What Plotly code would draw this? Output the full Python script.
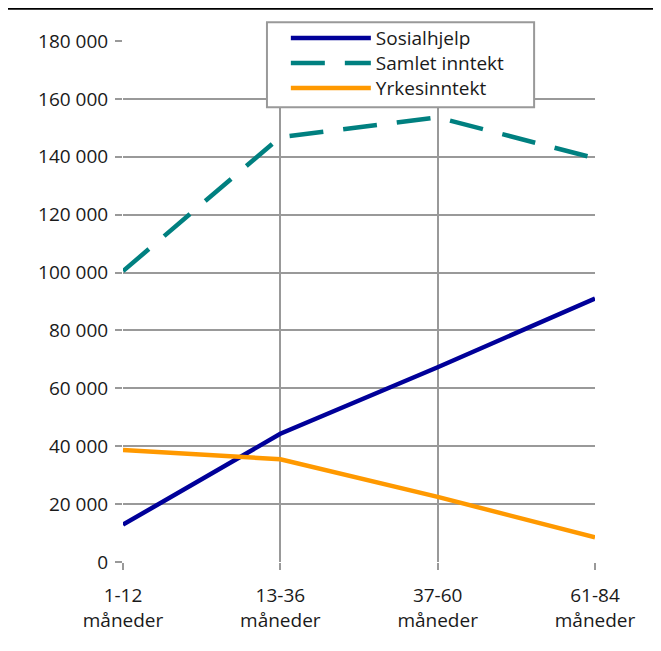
import plotly.graph_objects as go

categories = ["1-12<br>måneder", "13-36<br>måneder", "37-60<br>måneder", "61-84<br>måneder"]
sosialhjelp = [12900, 44300, 67300, 91000]
samlet_inntekt = [100500, 146800, 153600, 139500]
yrkesinntekt = [38700, 35500, 22500, 8500]
y_tick_values = [0, 20000, 40000, 60000, 80000, 100000, 120000, 140000, 160000, 180000]
y_tick_labels = ["0", "20 000", "40 000", "60 000", "80 000", "100 000", "120 000", "140 000", "160 000", "180 000"]

FONT = "Open Sans"
TXT = "#1a1a1a"
fig = go.Figure()
fig.add_trace(go.Scatter(x=categories, y=sosialhjelp, name="Sosialhjelp", mode="lines",
                         line=dict(color="#000099", width=4.5), legend="legend"))
fig.add_trace(go.Scatter(x=categories, y=samlet_inntekt, name="Samlet inntekt", mode="lines",
                         line=dict(color="#008080", width=4.5, dash="34px,20px"), legend="legend2"))
fig.add_trace(go.Scatter(x=categories, y=yrkesinntekt, name="Yrkesinntekt", mode="lines",
                         line=dict(color="#FF9900", width=4.5), legend="legend3"))

def leg(ypos):
    return dict(x=0.345, y=ypos, xanchor="left", yanchor="top",
                bgcolor="rgba(0,0,0,0)", borderwidth=0,
                font=dict(family=FONT, size=19, color=TXT),
                itemwidth=80, tracegroupgap=0)

fig.update_layout(
    width=653, height=643,
    margin=dict(l=115, r=66, t=33, b=89, autoexpand=False),
    paper_bgcolor="white", plot_bgcolor="white",
    font=dict(family=FONT, size=19, color=TXT),
    showlegend=True,
    legend=leg(1.042), legend2=leg(0.994), legend3=leg(0.946),
    xaxis=dict(type="category", range=[0, 3], showgrid=True, gridcolor="#999", gridwidth=2,
               ticks="outside", ticklen=7, tickcolor="#999", tickwidth=2,
               showline=False, zeroline=False, tickfont=dict(size=19),
               ticklabelstandoff=9),
    yaxis=dict(range=[0, 180000], tickvals=y_tick_values, ticktext=y_tick_labels,
               showgrid=True, gridcolor="#999", gridwidth=2,
               ticks="outside", ticklen=7, tickcolor="#999", tickwidth=2,
               showline=False, zeroline=False, tickfont=dict(size=19),
               ticklabelstandoff=3),
    shapes=[
        dict(type="line", xref="paper", yref="paper", x0=-0.246, x1=1.14, y0=1.063, y1=1.063,
             line=dict(color="black", width=3)),
        dict(type="rect", xref="paper", yref="paper", x0=0.305, x1=0.871, y0=0.873, y1=1.036,
             fillcolor="white", line=dict(color="#999", width=2), layer="above"),
    ],
)
fig.write_html("out.html")
